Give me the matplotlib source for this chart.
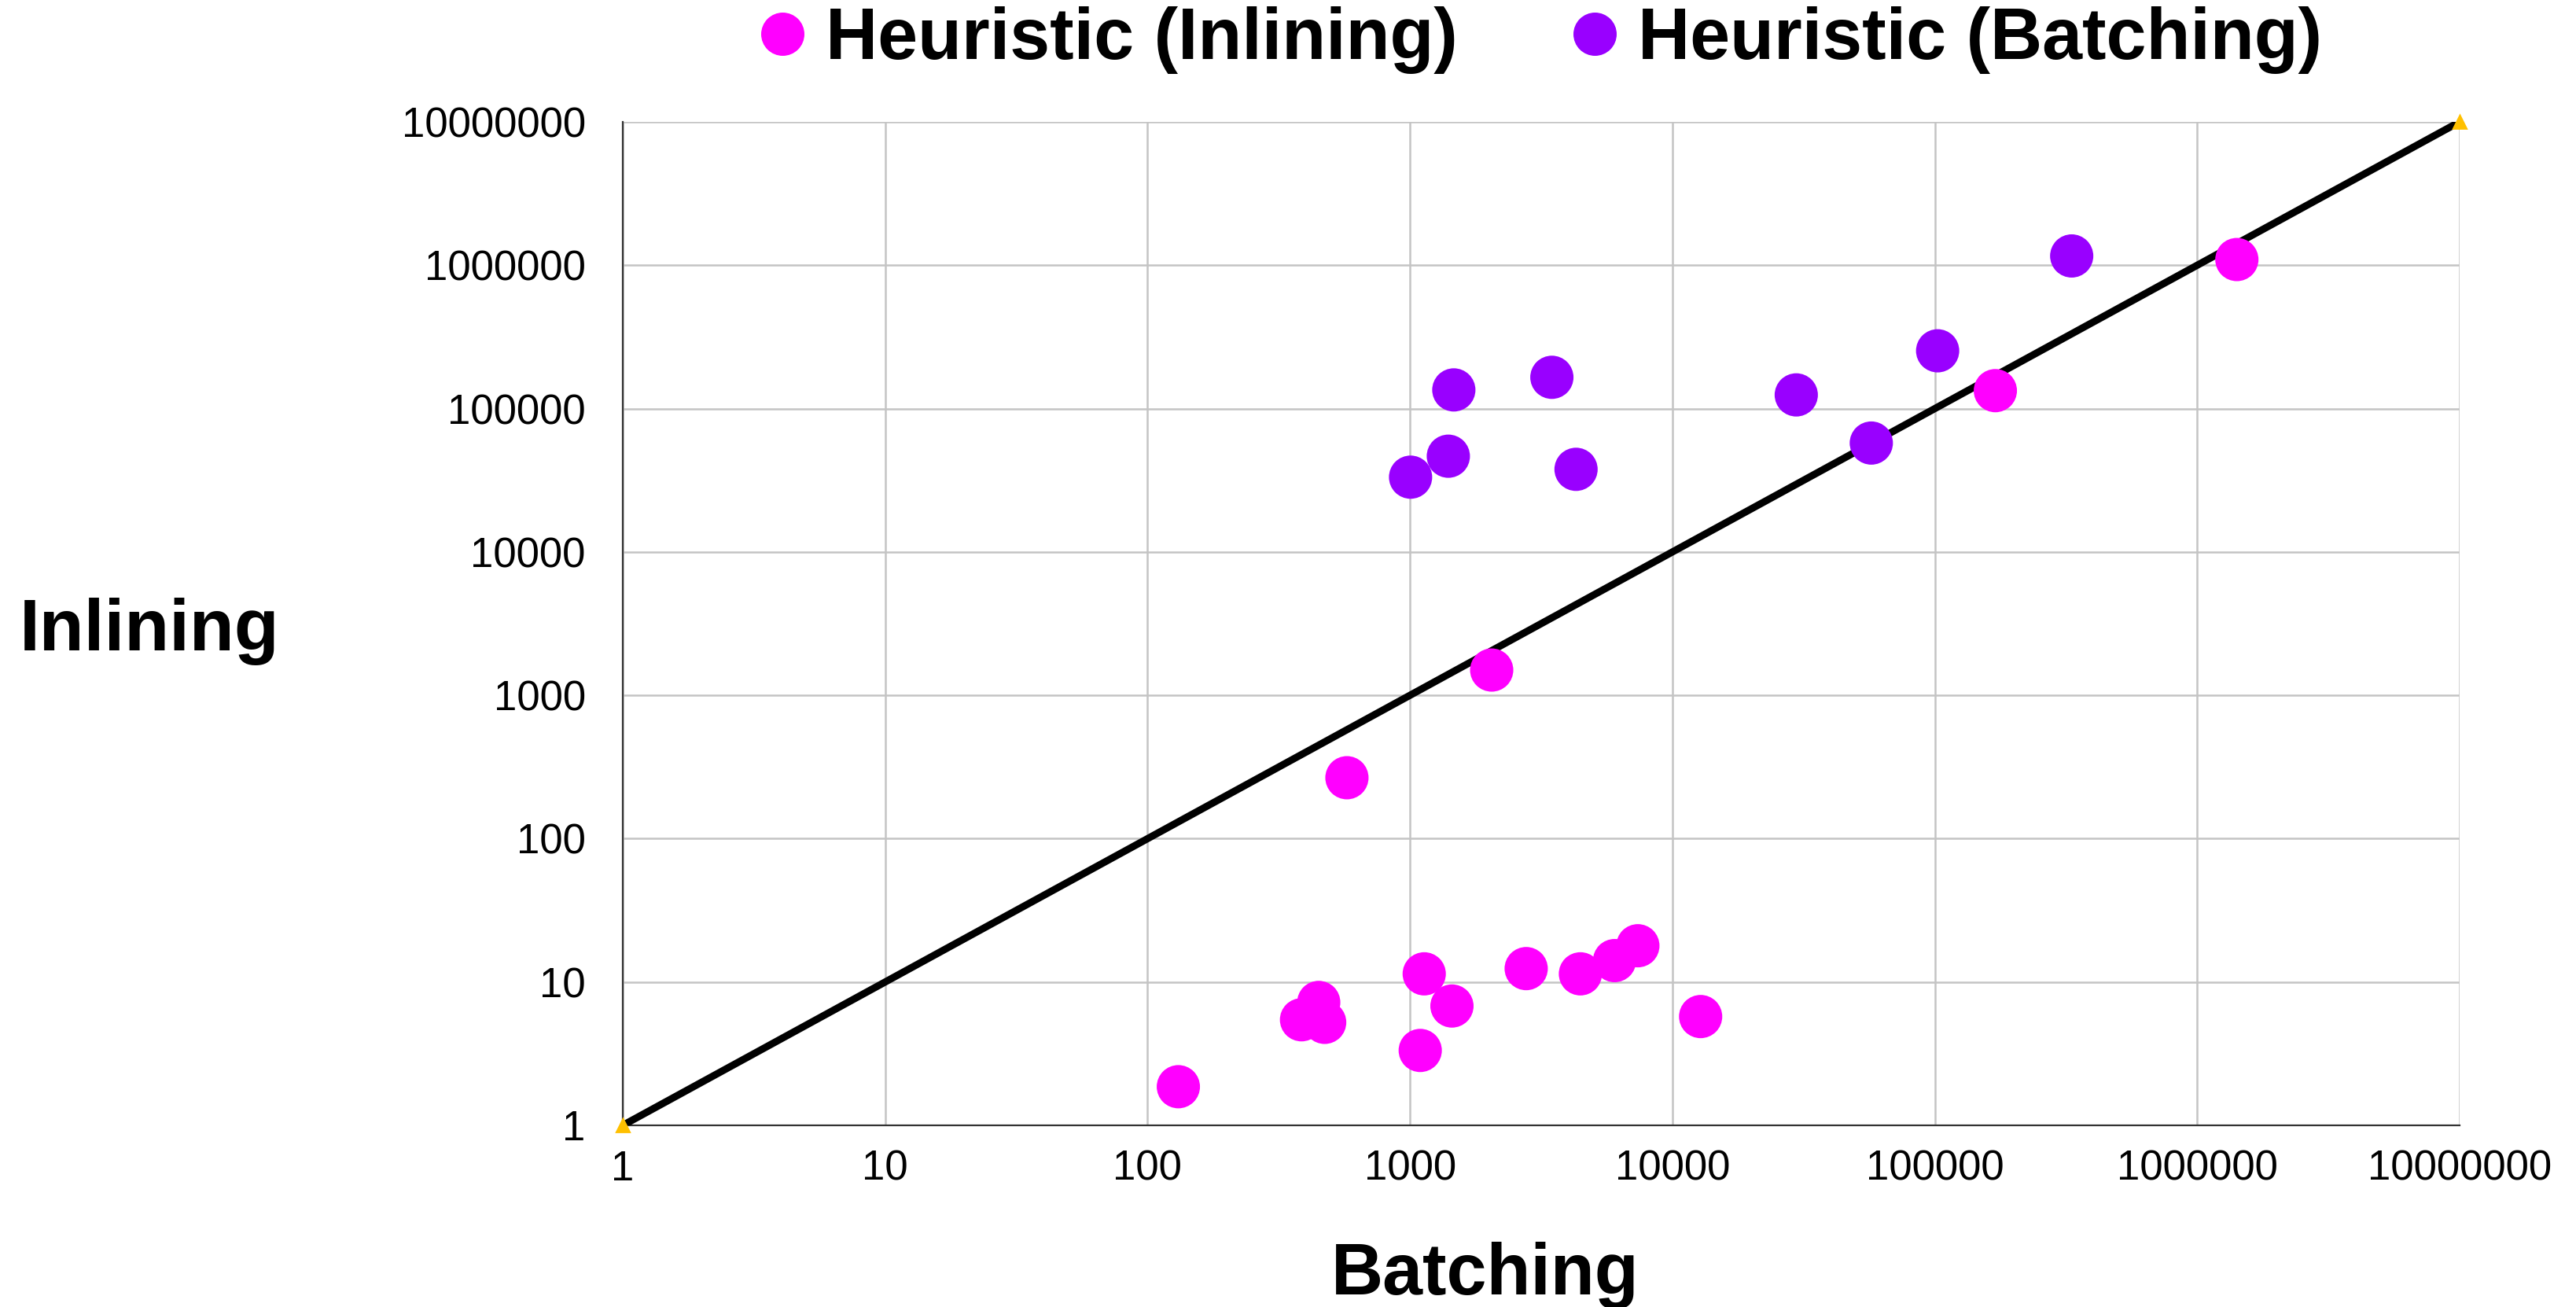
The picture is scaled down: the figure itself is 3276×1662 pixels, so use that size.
import matplotlib
matplotlib.use("Agg")
import matplotlib.pyplot as plt
from matplotlib.lines import Line2D

plt.rcParams['font.family'] = ['Liberation Sans', 'DejaVu Sans']

# ---- data ----
inl_batching = [131, 386, 449, 473, 1133, 1445, 1094, 2772, 4461, 6020, 7386, 12810,
                575, 2048, 170100, 1416000]
inl_inlining = [1.86, 5.45, 7.2, 5.23, 11.4, 6.8, 3.33, 12.4, 11.4, 14.1, 17.9, 5.74,
                266, 1500, 133400, 1096000]

bat_batching = [1005, 1400, 1469, 3473, 4293, 29650, 57280, 102500, 332400]
bat_inlining = [33240, 46550, 135000, 165300, 37700, 124600, 57500, 253000, 1161000]

diag = [1, 10000000]
ticks = [1, 10, 100, 1000, 10000, 100000, 1000000, 10000000]
tick_labels = ["1", "10", "100", "1000", "10000", "100000", "1000000", "10000000"]

series_names = ["Heuristic (Inlining)", "Heuristic (Batching)"]
colors = ["#FF00FF", "#9900FF"]

# ---- figure ----
W, H, DPI = 3276, 1662, 200
fig = plt.figure(figsize=(W / DPI, H / DPI), dpi=DPI)
ax = fig.add_axes([792 / W, 1 - 1431 / H, (3128 - 792) / W, (1431 - 155) / H])

ax.set_xscale('log')
ax.set_yscale('log')
ax.set_xlim(diag)
ax.set_ylim(diag)

ax.plot(diag, diag, color='black', lw=3.3, zorder=2, solid_capstyle='butt')
ax.plot(diag, diag, ls='none', marker='^', ms=5.5, color='#FFC000', zorder=5, clip_on=False)

ms = 19.8
ax.scatter(inl_batching, inl_inlining, s=ms ** 2, color=colors[0], edgecolors='none',
           zorder=3, clip_on=False)
ax.scatter(bat_batching, bat_inlining, s=ms ** 2, color=colors[1], edgecolors='none',
           zorder=3, clip_on=False)

ax.set_xticks(ticks)
ax.set_xticklabels(tick_labels)
ax.set_yticks(ticks)
ax.set_yticklabels(tick_labels)
ax.minorticks_off()
ax.tick_params(axis='both', length=0, labelsize=19)
ax.tick_params(axis='x', pad=11)
ax.tick_params(axis='y', pad=17)

ax.grid(True, color='#C4C4C4', lw=0.9, zorder=0)
ax.set_axisbelow(True)
for s in ['top', 'right']:
    ax.spines[s].set_visible(False)
for s in ['left', 'bottom']:
    ax.spines[s].set_color('#333333')
    ax.spines[s].set_linewidth(0.8)
    ax.spines[s].set_zorder(1)

# axis titles
fig.text(190 / W, 1 - 827 / H, "Inlining", ha='center', va='baseline',
         fontsize=33.5, fontweight='bold')
fig.text(1889 / W, 1 - 1646 / H, "Batching", ha='center', va='baseline',
         fontsize=33, fontweight='bold')

# legend
handles = [Line2D([], [], ls='none', marker='o', ms=ms, color=c, markeredgewidth=0)
           for c in colors]
leg = fig.legend(handles, series_names, loc='center', bbox_to_anchor=(1960 / W, 1 - 51 / H),
                 ncol=2, frameon=False, handlelength=0.6, handletextpad=0.3,
                 columnspacing=1.6, borderpad=0, borderaxespad=0,
                 prop={'family': 'Liberation Sans', 'weight': 'bold', 'size': 33})

fig.savefig("out.png", dpi=DPI)
